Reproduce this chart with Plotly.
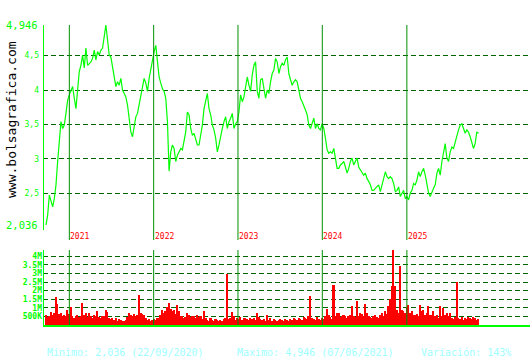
import pandas as pd
import plotly.graph_objects as go

# ---------------- data ----------------
START_DATE = "2020-09-22"
END_DATE = "2025-11-07"

PRICES = [
    2.036, 2.18, 2.47, 2.37, 2.30, 2.42, 2.62, 2.96, 3.30, 3.54,
    3.44, 3.49, 3.66, 3.85, 3.93, 4.00, 4.05, 3.88, 3.73, 4.00,
    4.27, 4.36, 4.51, 4.32, 4.61, 4.36, 4.39, 4.41, 4.46, 4.58,
    4.44, 4.56, 4.51, 4.58, 4.61, 4.75, 4.946, 4.73, 4.51, 4.48,
    4.32, 4.17, 4.05, 4.12, 4.07, 4.17, 4.00, 3.95, 3.90, 3.78,
    3.54, 3.39, 3.32, 3.44, 3.61, 3.66, 3.78, 3.93, 4.07, 4.17,
    4.10, 3.98, 4.17, 4.32, 4.41, 4.56, 4.65, 4.36, 4.19, 4.10,
    4.02, 3.98, 3.88, 3.54, 2.82, 3.10, 3.20, 3.15, 2.96, 3.05,
    3.10, 3.15, 3.13, 3.25, 3.39, 3.68, 3.64, 3.44, 3.34, 3.37,
    3.27, 3.20, 3.20, 3.34, 3.49, 3.73, 3.85, 3.95, 3.73, 3.64,
    3.49, 3.42, 3.30, 3.10, 3.20, 3.34, 3.44, 3.54, 3.61, 3.44,
    3.54, 3.59, 3.66, 3.44, 3.51, 3.54, 3.68, 3.93, 3.83, 3.90,
    4.07, 4.19, 4.07, 3.98, 4.22, 4.36, 4.41, 3.98, 3.88, 4.15,
    4.17, 4.05, 3.88, 4.00, 3.95, 4.12, 4.24, 4.29, 4.46, 4.41,
    4.24, 4.34, 4.39, 4.36, 4.44, 4.48, 4.24, 4.15, 4.07, 4.12,
    4.15, 4.12, 4.00, 3.88, 3.83, 3.78, 3.71, 3.64, 3.49, 3.44,
    3.51, 3.59, 3.44, 3.51, 3.44, 3.42, 3.51, 3.44, 3.30, 3.13,
    3.08, 3.10, 3.08, 3.15, 3.01, 2.86, 2.86, 2.91, 2.93, 2.96,
    2.88, 2.79, 2.86, 2.96, 3.01, 2.91, 2.96, 3.01, 2.88, 2.84,
    2.81, 2.76, 2.79, 2.71, 2.67, 2.62, 2.54, 2.54, 2.57, 2.59,
    2.62, 2.52, 2.62, 2.71, 2.81, 2.74, 2.71, 2.74, 2.71, 2.64,
    2.52, 2.54, 2.59, 2.45, 2.50, 2.54, 2.42, 2.45, 2.40, 2.50,
    2.54, 2.64, 2.62, 2.69, 2.81, 2.74, 2.81, 2.86, 2.76, 2.62,
    2.50, 2.45, 2.52, 2.57, 2.62, 2.79, 2.86, 2.76, 2.96, 3.10,
    3.22, 3.01, 2.96, 3.10, 3.17, 3.15, 3.25, 3.32, 3.42, 3.49,
    3.51, 3.44, 3.37, 3.42, 3.39, 3.32, 3.22, 3.15, 3.22, 3.39,
    3.37,
]

VOLUMES_K = [
    600, 450, 550, 780, 600, 700, 1650, 1200, 620, 700,
    520, 560, 500, 900, 650, 1040, 550, 400, 500, 600,
    450, 550, 1260, 600, 700, 480, 680, 520, 420, 560,
    500, 800, 450, 400, 550, 500, 880, 780, 400, 350,
    420, 300, 380, 250, 330, 280, 240, 220, 300, 450,
    700, 600, 550, 650, 500, 600, 1750, 700, 650, 600,
    400, 300, 350, 250, 300, 350, 300, 400, 380, 600,
    880, 700, 800, 1050, 1300, 950, 800, 880, 650, 1150,
    790, 500, 550, 400, 480, 700, 600, 450, 550, 500,
    400, 580, 450, 500, 350, 790, 400, 300, 250, 380,
    300, 250, 330, 280, 220, 300, 260, 350, 400, 3000,
    350, 400, 780, 500, 300, 400, 350, 450, 300, 420,
    380, 350, 300, 400, 350, 420, 300, 700, 450, 350,
    300, 350, 250, 600, 300, 400, 250, 350, 300, 250,
    300, 350, 280, 250, 330, 300, 250, 350, 300, 400,
    350, 300, 400, 350, 300, 450, 400, 350, 500, 1700,
    400, 350, 300, 450, 350, 300, 400, 350, 500, 920,
    600, 450, 350, 2320, 500, 700, 720, 450, 500, 600,
    550, 400, 500, 600, 1100, 500, 450, 1400, 500, 700,
    650, 500, 1200, 700, 550, 450, 400, 500, 600, 450,
    400, 600, 700, 550, 800, 650, 1080, 1500, 2280, 4350,
    2300, 880, 700, 3430, 880, 790, 700, 1070, 1170, 700,
    790, 600, 595, 650, 500, 1170, 790, 880, 600, 690,
    1080, 600, 600, 790, 500, 600, 400, 1080, 500, 980,
    600, 690, 500, 700, 400, 350, 450, 2480, 400, 350,
    450, 300, 400, 350, 450, 400, 350, 450, 400, 300,
    350,
]

PRICE_TICKS = [2.036, 2.5, 3.0, 3.5, 4.0, 4.5, 4.946]
PRICE_TICK_LABELS = ["2,036", "2,5", "3", "3,5", "4", "4,5", "4,946"]
PRICE_BIG_LABELS = ["2,036", "4,946"]

VOLUME_TICKS = [500e3, 1e6, 1.5e6, 2e6, 2.5e6, 3e6, 3.5e6, 4e6]
VOLUME_TICK_LABELS = ["500K", "1M", "1.5M", "2M", "2.5M", "3M", "3.5M", "4M"]

YEARS = ["2021", "2022", "2023", "2024", "2025"]

STAT_MIN = "Minimo: 2,036 (22/09/2020)"
STAT_MAX = "Maximo: 4,946 (07/06/2021)"
STAT_VAR = "Variación: 143%"
WATERMARK = "www.bolsagrafica.com"

# ---------------- figure ----------------
W, H = 530, 360
MONO = "DejaVu Sans Mono"


def py(p):
    return 1 - p / H


def px(p):
    return p / W


dates = pd.date_range(START_DATE, END_DATE, periods=len(PRICES))
volumes = [v * 1000 for v in VOLUMES_K]

# small tick labels on the axis, the two extreme values drawn larger as annotations
price_ticktext = ["" if t in PRICE_BIG_LABELS else t for t in PRICE_TICK_LABELS]

fig = go.Figure()
fig.add_trace(go.Scatter(x=dates, y=PRICES, mode="lines",
                         line=dict(color="#00ff00", width=1.2),
                         xaxis="x", yaxis="y", hoverinfo="skip"))
fig.add_trace(go.Bar(x=dates, y=volumes, marker=dict(color="#ff0000", line=dict(width=0)),
                     xaxis="x2", yaxis="y2", hoverinfo="skip"))

XRANGE = ["2020-09-09", "2026-06-18"]
GRID = dict(showgrid=True, gridcolor="#006400", gridwidth=1, griddash="5px,3px")

fig.update_layout(
    width=W, height=H,
    margin=dict(l=0, r=0, t=0, b=0),
    paper_bgcolor="white", plot_bgcolor="white",
    showlegend=False, bargap=0,
    xaxis=dict(domain=[px(43), 1], range=XRANGE, type="date",
               showticklabels=False, showgrid=False, zeroline=False, showline=False),
    xaxis2=dict(domain=[px(43), 1], range=XRANGE, type="date", anchor="y2",
                showticklabels=False, showgrid=False, zeroline=False,
                showline=True, linecolor="#00ff00", linewidth=2),
    yaxis=dict(domain=[py(225), py(25)], range=[2.0355, 4.9465],
               tickvals=PRICE_TICKS, ticktext=price_ticktext, ticks="",
               tickfont=dict(family=MONO, size=8, color="#00ff00"),
               zeroline=False, showline=False, ticklabelstandoff=3, **GRID),
    yaxis2=dict(domain=[py(325), py(250)], range=[0, 4.37e6], anchor="x2",
                tickvals=VOLUME_TICKS, ticktext=VOLUME_TICK_LABELS, ticks="",
                tickfont=dict(family=MONO, size=8, color="#00ff00", weight="bold"),
                zeroline=False, showline=False, ticklabelstandoff=0, **GRID),
)

shapes = []
# left axis lines
shapes.append(dict(type="line", xref="paper", yref="paper", x0=px(43.5), x1=px(43.5),
                   y0=py(230), y1=py(25), line=dict(color="#00ff00", width=1)))
shapes.append(dict(type="line", xref="paper", yref="paper", x0=px(43.5), x1=px(43.5),
                   y0=py(326), y1=py(250), line=dict(color="#00ff00", width=1)))
annotations = []
for val, lab in zip(PRICE_TICKS, PRICE_TICK_LABELS):
    if lab in PRICE_BIG_LABELS:
        annotations.append(dict(x=px(40), xref="paper", y=val, yref="y", text=lab,
                                showarrow=False, xanchor="right", yanchor="middle",
                                font=dict(family=MONO, size=10.5, color="#00ff00")))
for yr in YEARS:
    d = f"{yr}-01-01"
    shapes.append(dict(type="line", xref="x", yref="paper", x0=d, x1=d,
                       y0=py(240), y1=py(25), line=dict(color="#009000", width=1)))
    shapes.append(dict(type="line", xref="x", yref="paper", x0=d, x1=d,
                       y0=py(325), y1=py(250), line=dict(color="#009000", width=1)))
    annotations.append(dict(x=d, xref="x", y=py(236), yref="paper", text=yr,
                            showarrow=False, xanchor="left", yanchor="middle", xshift=-1,
                            font=dict(family=MONO, size=8, color="#ff0000")))

annotations.append(dict(x=px(12), y=py(120), xref="paper", yref="paper", text=WATERMARK,
                        textangle=-90, showarrow=False, xanchor="center", yanchor="middle",
                        font=dict(family=MONO, size=13, color="#000000")))

for txt, x0 in [(STAT_MIN, 45), (STAT_MAX, 235), (STAT_VAR, 419)]:
    annotations.append(dict(x=px(x0), y=py(352), xref="paper", yref="paper", text=txt,
                            showarrow=False, xanchor="left", yanchor="middle",
                            font=dict(family=MONO, size=10, color="#a0ffff")))

fig.update_layout(shapes=shapes, annotations=annotations)
fig.write_html("out.html")
